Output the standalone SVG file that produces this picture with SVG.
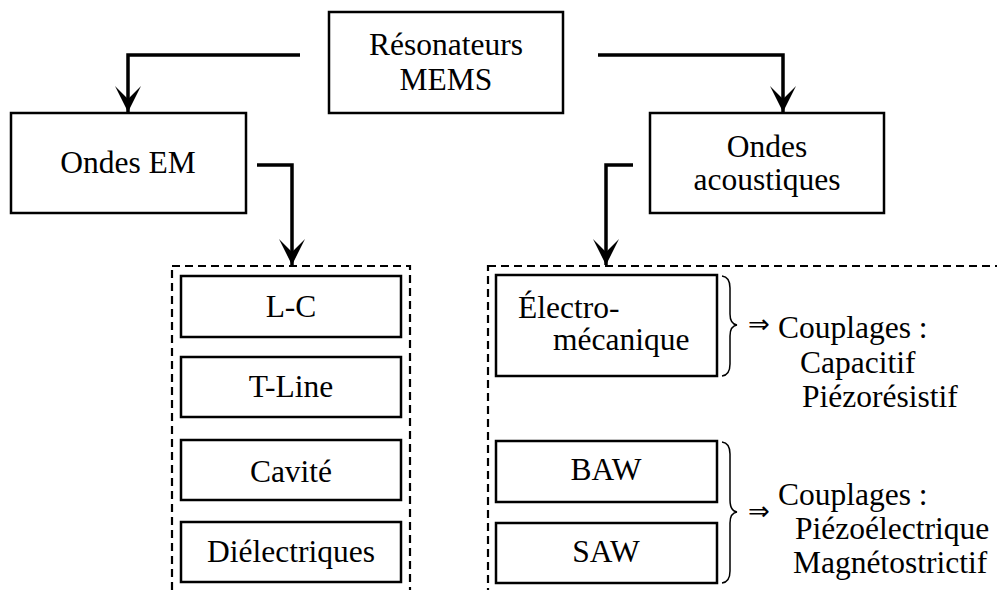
<svg xmlns="http://www.w3.org/2000/svg" width="997" height="590" viewBox="0 0 997 590">
<style>
.box{fill:#fff;stroke:#000;stroke-width:2.5}
.t{font-family:"Liberation Serif","DejaVu Serif",serif;font-size:31.5px;fill:#000}
.c{text-anchor:middle}
.conn{fill:none;stroke:#000;stroke-width:3.5}
.dash{fill:none;stroke:#000;stroke-width:2.2;stroke-dasharray:8 5}
.brace{fill:none;stroke:#000;stroke-width:1.5}
.imp{font-family:"DejaVu Sans",sans-serif;font-size:26px;fill:#000}
</style>
<defs>
<marker id="ah" viewBox="0 0 26 26" refX="26" refY="13" markerWidth="26" markerHeight="26" markerUnits="userSpaceOnUse" orient="auto">
<path d="M26,13 L0,0 L13,13 L0,26 Z" fill="#000"/>
</marker>
</defs>
<rect width="997" height="590" fill="#fff"/>
<g id="groups">
<rect class="dash" x="172" y="266" width="238" height="340"/>
<rect class="dash" x="488" y="266" width="540" height="340"/>
</g>
<g id="connectors">
<path class="conn" d="M300,55 H128 V112" marker-end="url(#ah)"/>
<path class="conn" d="M598,55 H783 V112" marker-end="url(#ah)"/>
<path class="conn" d="M257,165 H292 V265" marker-end="url(#ah)"/>
<path class="conn" d="M633,165 H606 V265" marker-end="url(#ah)"/>
</g>
<g id="root"><rect class="box" x="329" y="12" width="234" height="101"/>
<text class="t c" x="446" y="55">Résonateurs</text><text class="t c" x="446" y="90">MEMS</text></g>
<g id="em"><rect class="box" x="11" y="113" width="235" height="100"/>
<text class="t c" x="128" y="173">Ondes EM</text></g>
<g id="ac"><rect class="box" x="650" y="113" width="234" height="100"/>
<text class="t c" x="767" y="157">Ondes</text><text class="t c" x="767" y="190">acoustiques</text></g>
<g id="lc"><rect class="box" x="181" y="276" width="220" height="61"/><text class="t c" x="291" y="317">L-C</text></g>
<g id="tline"><rect class="box" x="181" y="357" width="220" height="60"/><text class="t c" x="291" y="397">T-Line</text></g>
<g id="cavite"><rect class="box" x="181" y="440" width="220" height="60"/><text class="t c" x="291" y="482">Cavité</text></g>
<g id="diel"><rect class="box" x="181" y="522" width="220" height="60"/><text class="t c" x="291" y="562">Diélectriques</text></g>
<g id="electro"><rect class="box" x="496" y="275" width="221" height="101"/>
<text class="t" x="518" y="318">Électro-</text><text class="t" x="553" y="350">mécanique</text></g>
<g id="baw"><rect class="box" x="496" y="441" width="221" height="61"/><text class="t c" x="606" y="480">BAW</text></g>
<g id="saw"><rect class="box" x="496" y="523" width="221" height="60"/><text class="t c" x="606" y="562">SAW</text></g>
<g id="note1">
<path class="brace" d="M722,276 Q730,277 730,288 V314 Q730,324 737,325 Q730,326 730,336 V364 Q730,375 722,376"/>
<text class="imp" x="748" y="333">⇒</text>
<text class="t" x="778" y="338">Couplages :</text>
<text class="t" x="800" y="373">Capacitif</text>
<text class="t" x="802" y="407">Piézorésistif</text>
</g>
<g id="note2">
<path class="brace" d="M722,442 Q730,443 730,454 V500 Q730,511 737,512 Q730,513 730,523 V571 Q730,582 722,583"/>
<text class="imp" x="748" y="520">⇒</text>
<text class="t" x="778" y="505">Couplages :</text>
<text class="t" x="795" y="539">Piézoélectrique</text>
<text class="t" x="793" y="573">Magnétostrictif</text>
</g>
</svg>
